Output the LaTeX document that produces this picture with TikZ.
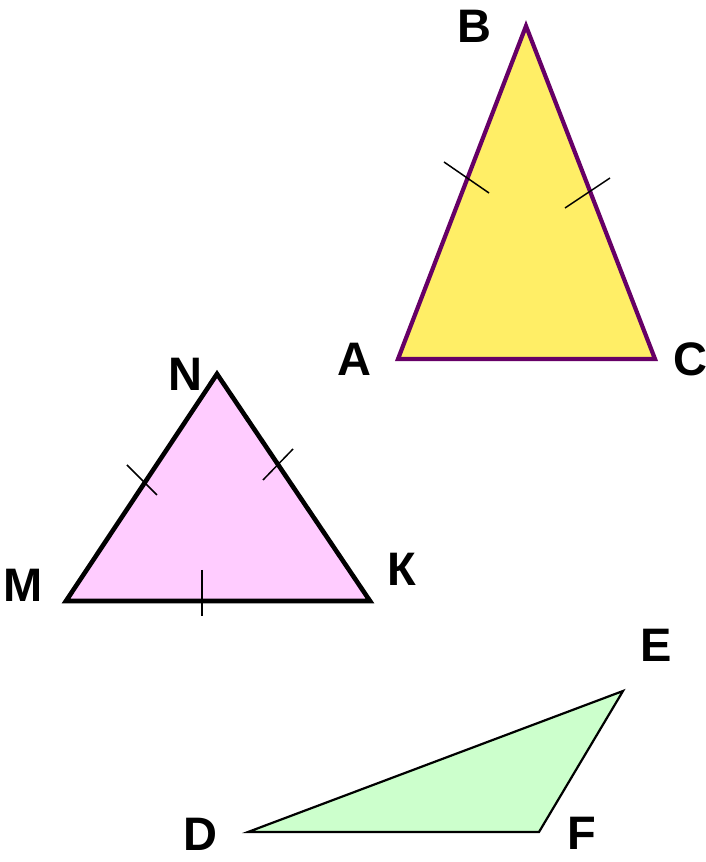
\documentclass[tikz,border=0pt]{standalone}
\usepackage{fontspec}
\setmainfont{Liberation Sans}
\usepackage{tkz-euclide}

\definecolor{isoyellow}{HTML}{FFEE66}
\definecolor{isopurple}{HTML}{660066}
\definecolor{eqpink}{HTML}{FFCCFF}
\definecolor{obtgreen}{HTML}{CCFFCC}

\tikzset{
  vert/.style={font=\bfseries\fontsize{47}{47}\selectfont, inner sep=0pt, text=black},
  tick/.style={line width=1.5pt, black},
  isoside/.style={draw=isopurple, fill=isoyellow, line width=4.2pt},
  eqside/.style={draw=black, fill=eqpink, line width=4.6pt},
  obtside/.style={draw=black, fill=obtgreen, line width=2.2pt}
}

\begin{document}
\begin{tikzpicture}[x=1pt, y=1pt]
    \useasboundingbox (0,0) rectangle (706,862);
    % isosceles ABC
    \tkzDefPoint(398,503){A}
    \tkzDefPoint(526,836){B}
    \tkzDefPoint(655,503){C}
    \draw[isoside] (A) -- (B) -- (C) -- cycle;
    \tkzLabelPoint[vert, left=26pt, name=lblA](A){A}
    \tkzLabelPoint[vert, left=34pt, name=lblB](B){B}
    \tkzLabelPoint[vert, right=18pt, name=lblC](C){C}
    \draw[tick] (444,700) -- (489,669);
    \draw[tick] (565,654) -- (610,684);
    % equilateral MNK
    \tkzDefPoint(217,488){N}
    \tkzDefPoint(66,261){M}
    \tkzDefPoint(370,261){K}
    \draw[eqside] (M) -- (N) -- (K) -- cycle;
    \tkzLabelPoint[vert, left=14pt, name=lblN](N){N}
    \tkzLabelPoint[vert, left=23pt, yshift=16pt, name=lblM](M){M}
    \tkzLabelPoint[vert, right=17pt, yshift=32pt, name=lblK](K){К}
    \draw[tick] (127,397) -- (157,367);
    \draw[tick] (263,382) -- (293,413);
    \draw[tick] (202,292) -- (202,246);
    % obtuse DEF
    \tkzDefPoint(248,30){D}
    \tkzDefPoint(623,171){E}
    \tkzDefPoint(539,30){F}
    \draw[obtside] (D) -- (E) -- (F) -- cycle;
    \tkzLabelPoint[vert, left=30pt, yshift=-2pt, name=lblD](D){D}
    \tkzLabelPoint[vert, right=17pt, yshift=46pt, name=lblE](E){E}
    \tkzLabelPoint[vert, right=28pt, yshift=-1pt, name=lblF](F){F}
\end{tikzpicture}
\end{document}
